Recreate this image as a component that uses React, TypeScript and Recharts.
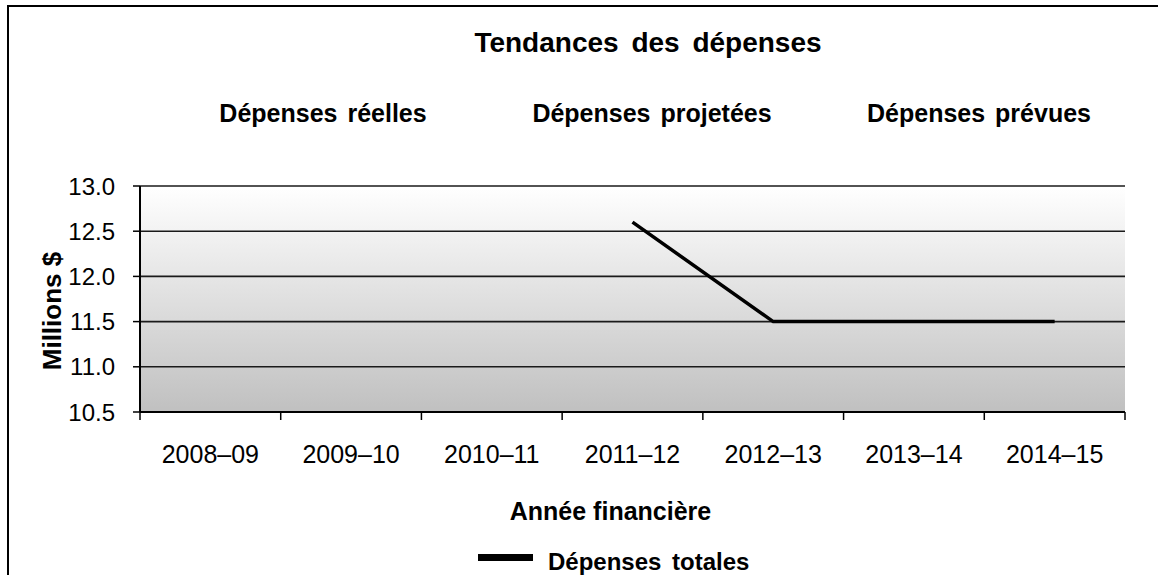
import { LineChart, Line, XAxis, YAxis, CartesianGrid, Legend, Label } from 'recharts'

// Spending trend, millions of dollars
const fiscalYears = ['2008–09', '2009–10', '2010–11', '2011–12', '2012–13', '2013–14', '2014–15']
const totalSpending: (number | null)[] = [null, null, null, 12.6, 11.5, 11.5, 11.5]
const yTicks = [10.5, 11.0, 11.5, 12.0, 12.5, 13.0]
const sectionHeaders = ['Dépenses réelles', 'Dépenses projetées', 'Dépenses prévues']

const chartTitle = 'Tendances des dépenses'
const xTitle = 'Année financière'
const yTitle = 'Millions $'
const seriesName = 'Dépenses totales'

const FONT = '"Liberation Sans", Arial, sans-serif'

const chartData = fiscalYears.map((year, i) => ({ year, total: totalSpending[i] }))

function YearTick(props: any) {
    const { x, y, payload, index, width } = props
    const band = (width || 985) / fiscalYears.length
    const half = band / 2
    const isLast = index === fiscalYears.length - 1
    return (
        <g>
            <line x1={x - half} x2={x - half} y1={y} y2={y + 8} stroke="#000" strokeWidth={1.5} />
            {isLast && <line x1={x + half} x2={x + half} y1={y} y2={y + 8} stroke="#000" strokeWidth={1.5} />}
            <text x={x} y={y + 51} textAnchor="middle" fontSize={25} fill="#000" fontFamily={FONT}>
                {payload.value}
            </text>
        </g>
    )
}

export default function App() {
    return (
        <div style={{ position: 'absolute', left: 0, top: 0, width: 1158, height: 575, overflow: 'hidden', background: '#fff', fontFamily: FONT }}>
            <LineChart
                width={1158}
                height={575}
                data={chartData}
                margin={{ top: 186, right: 33, bottom: 73, left: 0 }}
            >
                <defs>
                    <linearGradient id="plotBg" x1="0" y1="0" x2="0" y2="1">
                        <stop offset="0%" stopColor="#ffffff" />
                        <stop offset="100%" stopColor="#c0c0c0" />
                    </linearGradient>
                </defs>

                <CartesianGrid vertical={false} stroke="#1a1a1a" strokeWidth={1.6} fill="url(#plotBg)" />

                <XAxis
                    dataKey="year"
                    scale="band"
                    height={60}
                    interval={0}
                    tickLine={false}
                    tickSize={0}
                    tickMargin={0}
                    axisLine={{ stroke: '#000', strokeWidth: 2 }}
                    tick={<YearTick />}
                >
                    <Label
                        content={({ viewBox }: any) => (
                            <text
                                x={viewBox.x + viewBox.width / 2 - 22}
                                y={viewBox.y + 108}
                                textAnchor="middle"
                                fontSize={25}
                                fontWeight="bold"
                                fontFamily={FONT}
                                fill="#000"
                            >
                                {xTitle}
                            </text>
                        )}
                    />
                </XAxis>

                <YAxis
                    width={140}
                    domain={[10.5, 13]}
                    ticks={yTicks}
                    interval={0}
                    tickFormatter={(v) => Number(v).toFixed(1)}
                    tick={{ fill: '#000', fontSize: 24, fontFamily: FONT }}
                    tickLine={{ stroke: '#000', strokeWidth: 1.5 }}
                    tickSize={7}
                    tickMargin={18}
                    axisLine={{ stroke: '#000', strokeWidth: 2 }}
                >
                    <Label
                        content={({ viewBox }: any) => {
                            const lx = viewBox.x + 61
                            const ly = viewBox.y + viewBox.height / 2 + 12
                            return (
                                <text
                                    x={lx}
                                    y={ly}
                                    transform={`rotate(-90 ${lx} ${ly})`}
                                    textAnchor="middle"
                                    fontSize={26}
                                    fontWeight="bold"
                                    fontFamily={FONT}
                                    fill="#000"
                                >
                                    {yTitle}
                                </text>
                            )
                        }}
                    />
                </YAxis>

                {/* right frame edge */}
                <YAxis
                    yAxisId="frame"
                    orientation="right"
                    width={0}
                    domain={[10.5, 13]}
                    tick={false}
                    tickLine={false}
                    axisLine={{ stroke: '#000', strokeWidth: 2 }}
                />

                <Line
                    type="linear"
                    dataKey="total"
                    name={seriesName}
                    stroke="#000"
                    strokeWidth={3.5}
                    dot={false}
                    activeDot={false}
                    connectNulls={false}
                    isAnimationActive={false}
                />

                <Legend
                    verticalAlign="bottom"
                    wrapperStyle={{ top: 545, bottom: 'auto', left: 0, width: 1158, height: 30 }}
                    content={({ payload }: any) => (
                        <div style={{ position: 'relative', width: 1158, height: 30 }}>
                            <div style={{ position: 'absolute', left: 478, top: 9, width: 55, height: 7, background: '#000' }} />
                            <div
                                style={{
                                    position: 'absolute',
                                    left: 548,
                                    top: 5,
                                    fontSize: 24,
                                    lineHeight: '24px',
                                    fontWeight: 'bold',
                                    wordSpacing: 4,
                                    color: '#000',
                                    whiteSpace: 'nowrap',
                                }}
                            >
                                {payload?.[0]?.value ?? seriesName}
                            </div>
                        </div>
                    )}
                />
            </LineChart>

            {/* outer frame, title and period headers */}
            <svg width={1158} height={575} style={{ position: 'absolute', left: 0, top: 0, pointerEvents: 'none' }}>
                <rect x={8} y={6} width={1200} height={620} fill="none" stroke="#000" strokeWidth={2} />
                <text x={648} y={52} textAnchor="middle" fontSize={28} fontWeight="bold" wordSpacing={5} fontFamily={FONT} fill="#000">
                    {chartTitle}
                </text>
                {sectionHeaders.map((h, i) => (
                    <text
                        key={h}
                        x={[323, 652, 979][i]}
                        y={122}
                        textAnchor="middle"
                        fontSize={25}
                        fontWeight="bold"
                        wordSpacing={3}
                        fontFamily={FONT}
                        fill="#000"
                    >
                        {h}
                    </text>
                ))}
            </svg>
        </div>
    )
}
